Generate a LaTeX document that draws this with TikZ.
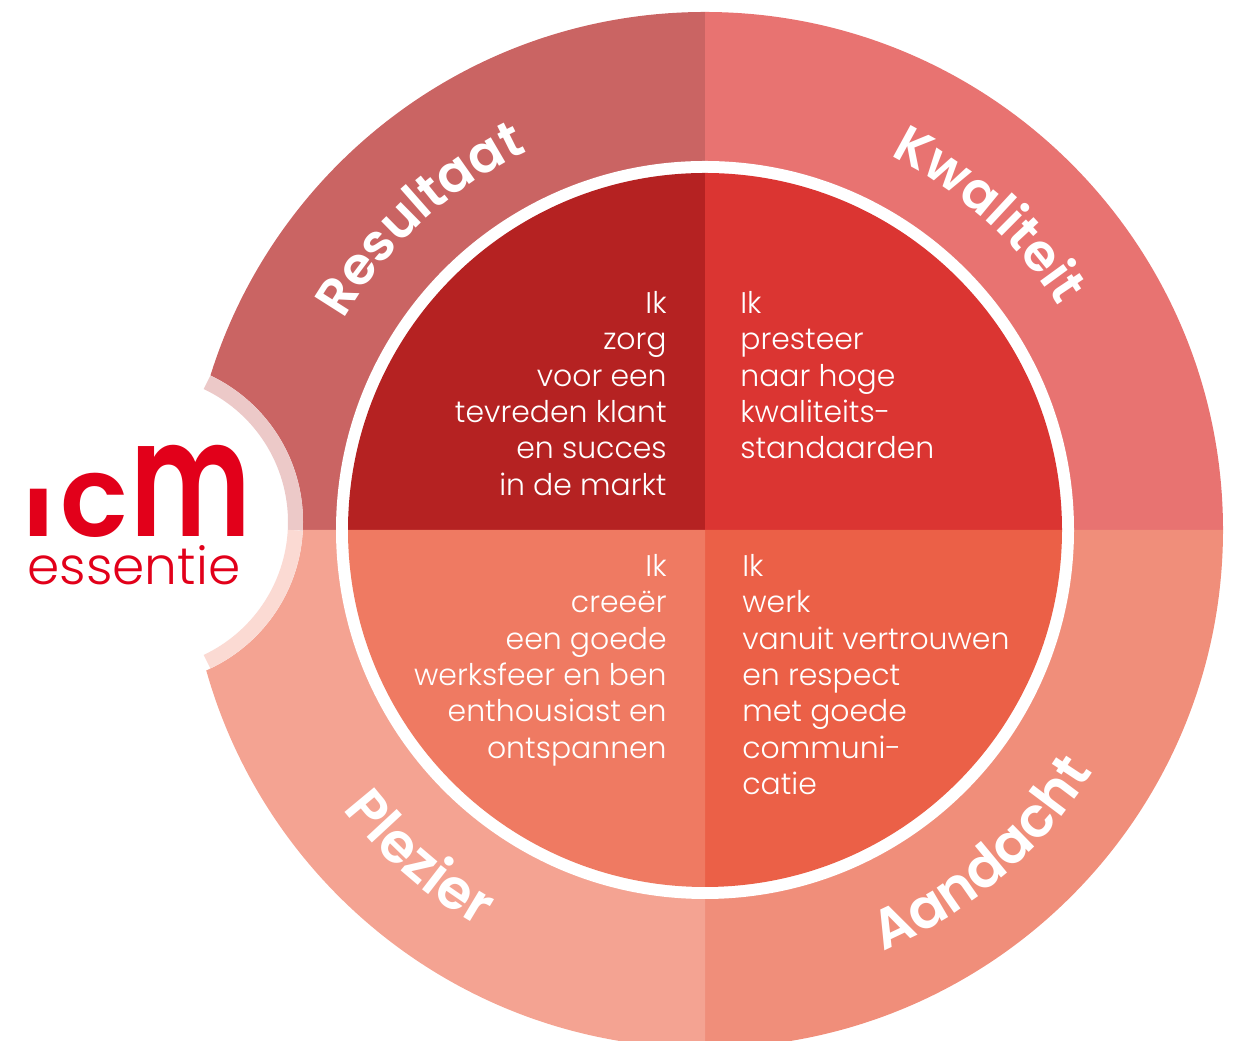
\documentclass[tikz,border=0pt]{standalone}
\usepackage{fontspec}
\setmainfont{Poppins Light}
\newfontfamily\ringfont{Poppins SemiBold}
\newfontfamily\logofont{Poppins SemiBold}
\usetikzlibrary{decorations.text}

\definecolor{resultaatring}{HTML}{CA6463}
\definecolor{kwaliteitring}{HTML}{E87371}
\definecolor{plezierring}{HTML}{F4A392}
\definecolor{aandachtring}{HTML}{F08E7A}
\definecolor{resultaatvlak}{HTML}{B52222}
\definecolor{kwaliteitvlak}{HTML}{DB3532}
\definecolor{pleziervlak}{HTML}{EF7A62}
\definecolor{aandachtvlak}{HTML}{EB6047}
\definecolor{logorood}{HTML}{E2001A}

\tikzset{
  kopje/.style 2 args={decorate,decoration={text along path,text align=center,
    text={|\color{white}\ringfont\fontsize{#2}{#2}\selectfont|#1}}},
  tekstvlak/.style={text=white,inner sep=0pt,font=\fontsize{17}{20.7}\selectfont}
}

\begin{document}
\begin{tikzpicture}[x=0.2mm,y=0.2mm]
    \useasboundingbox[clip] (0,0) rectangle (1237,1041);
    \coordinate (midden) at (705,511);
    \coordinate (uitsparing) at (141,519);

    % buitenring
    \fill[resultaatring] (midden) -- ++(180:518) arc[start angle=180,end angle=90,radius=518] -- cycle;
    \fill[kwaliteitring] (midden) -- ++(90:518) arc[start angle=90,end angle=0,radius=518] -- cycle;
    \fill[aandachtring] (midden) -- ++(0:518) arc[start angle=0,end angle=-90,radius=518] -- cycle;
    \fill[plezierring] (midden) -- ++(270:518) arc[start angle=270,end angle=180,radius=518] -- cycle;

    % witte rand en binnenvlakken
    \fill[white] (midden) circle (369);
    \fill[resultaatvlak] (midden) -- ++(180:357) arc[start angle=180,end angle=90,radius=357] -- cycle;
    \fill[kwaliteitvlak] (midden) -- ++(90:357) arc[start angle=90,end angle=0,radius=357] -- cycle;
    \fill[aandachtvlak] (midden) -- ++(0:357) arc[start angle=0,end angle=-90,radius=357] -- cycle;
    \fill[pleziervlak] (midden) -- ++(270:357) arc[start angle=270,end angle=180,radius=357] -- cycle;

    % uitsparing links
    \fill[white] (uitsparing) circle (162);
    \draw[line width=3mm,color=resultaatring!35!white] (uitsparing) ++(64.7:154.5) arc[start angle=64.7,end angle=-3.1,radius=154.5];
    \draw[line width=3mm,color=plezierring!40!white] (uitsparing) ++(-3.1:154.5) arc[start angle=-3.1,end angle=-64.7,radius=154.5];

    % kopjes langs de ring
    \path[kopje={Resultaat}{29.5}] (midden) ++(152:418) arc[start angle=152,end angle=113,radius=418];
    \path[kopje={Kwaliteit}{29.5}] (midden) ++(68:418) arc[start angle=68,end angle=28,radius=418];
    \path[kopje={Plezier}{31.5}] (midden) ++(209:457) arc[start angle=209,end angle=249,radius=457];
    \path[kopje={Aandacht}{31.5}] (midden) ++(290:457) arc[start angle=290,end angle=331,radius=457];

    \node[tekstvlak,anchor=north east,align=right] (zorg) at (667,750) {Ik\\zorg\\voor een\\tevreden klant\\en succes\\in de markt};
    \node[tekstvlak,anchor=north west,align=left] (presteer) at (740,750) {Ik\\presteer\\naar hoge\\kwaliteits-\\standaarden};
    \node[tekstvlak,anchor=north east,align=right] (creeer) at (667,487) {Ik\\creeër\\een goede\\werksfeer en ben\\enthousiast en\\ontspannen};
    \node[tekstvlak,anchor=north west,align=left] (werk) at (742,487) {Ik\\werk\\vanuit vertrouwen\\en respect\\met goede\\communi-\\catie};

    % logo
    \node[text=logorood,inner sep=0pt,anchor=base] (icm) at (136,504)
      {\logofont\fontsize{54}{54}\selectfont\scalebox{1.25}[0.9]{ı}\hspace{3pt}\fontsize{64}{64}\selectfont c\hspace{1pt}\fontsize{84}{84}\selectfont\scalebox{0.78}[1.1]{m}};
    \node[text=logorood,inner sep=0pt,anchor=base] (essentie) at (134,456)
      {\fontsize{29.5}{29.5}\selectfont essentie};
\end{tikzpicture}
\end{document}
